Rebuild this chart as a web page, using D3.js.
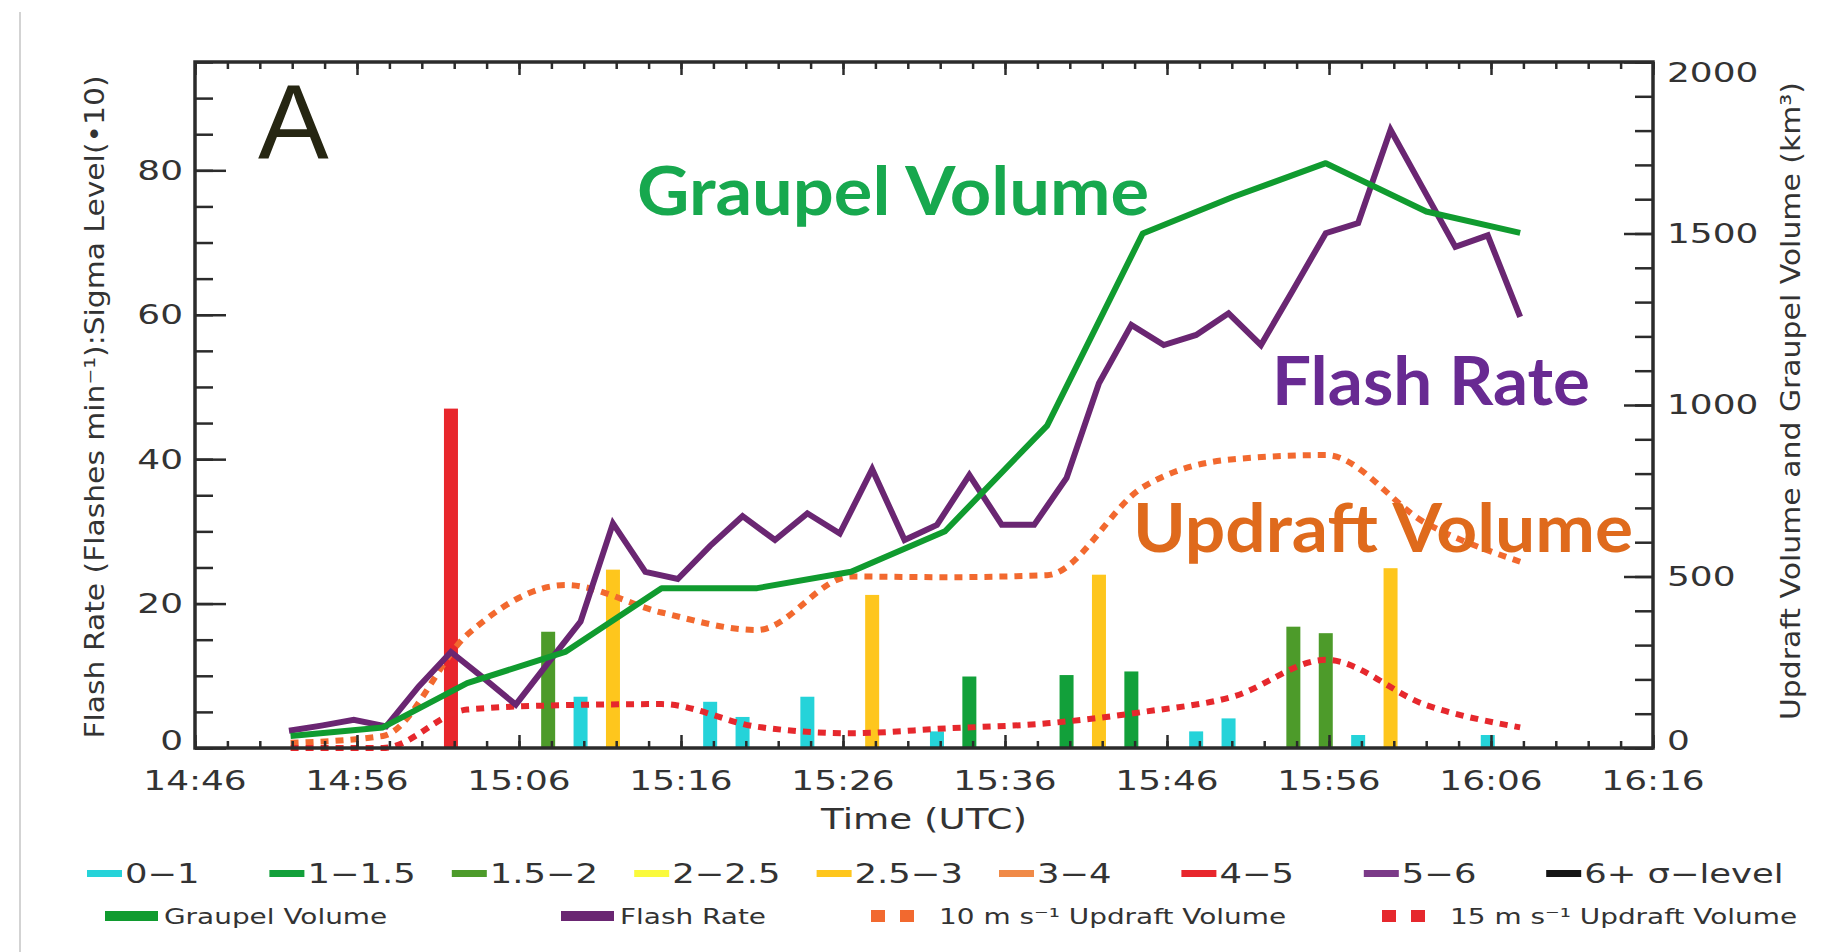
<!DOCTYPE html>
<html>
<head>
<meta charset="utf-8">
<script src="https://cdn.jsdelivr.net/npm/d3@7"></script>
<style>
  body { margin: 0; background: #fff; }
  svg { display: block; }
</style>
</head>
<body>
<div id="chart"></div>
<script>
// Flash rate, sampled every 2 min (flashes per minute)
const flashTimes = ["14:51:48", "14:53:48", "14:55:48", "14:57:48", "14:59:48", "15:01:48", "15:03:48",
	"15:05:48", "15:07:48", "15:09:48", "15:11:48", "15:13:48", "15:15:48", "15:17:48", "15:19:48",
	"15:21:48", "15:23:48", "15:25:48", "15:27:48", "15:29:48", "15:31:48", "15:33:48", "15:35:48",
	"15:37:48", "15:39:48", "15:41:48", "15:43:48", "15:45:48", "15:47:48", "15:49:48", "15:51:48",
	"15:53:48", "15:55:48", "15:57:48", "15:59:48", "16:01:48", "16:03:48", "16:05:48", "16:07:48"];
const flashRate = [2.4, 3.1, 3.9, 3.0, 8.5, 13.3, 9.7, 6.0, 11.8, 17.5, 31.1, 24.4, 23.4, 28.0, 32.1,
	28.8, 32.5, 29.7, 38.6, 28.8, 30.9, 37.8, 30.9, 30.9, 37.4, 50.5, 58.6, 55.8, 57.2, 60.2, 55.8,
	63.5, 71.3, 72.7, 85.6, 77.5, 69.4, 71.0, 59.7];

// Radar volume scans (km^3)
const radarTimes = ["14:51:54", "14:57:36", "15:02:48", "15:08:54", "15:14:48", "15:20:42", "15:26:30",
	"15:32:18", "15:38:36", "15:44:30", "15:50:06", "15:55:48", "16:02:00", "16:07:48"];
const graupelVolume = [35, 60, 189, 281, 466, 466, 514, 632, 940, 1500, 1607, 1705, 1564, 1502];
const updraft10 = [15, 35, 330, 475, 395, 344, 500, 498, 504, 760, 842, 854, 655, 543];
const updraft15 = [0, 0, 112, 125, 128, 62, 43, 57, 72, 105, 150, 257, 125, 60];

// Sigma level jumps (sigma * 10)
const barTimes = ["15:01:48", "15:07:48", "15:09:48", "15:11:48", "15:17:48", "15:19:48", "15:23:48",
	"15:27:48", "15:31:48", "15:33:48", "15:39:48", "15:41:48", "15:43:48", "15:47:48", "15:49:48",
	"15:53:48", "15:55:48", "15:57:48", "15:59:48", "16:05:48"];
const barValues = [47.0, 16.1, 7.1, 24.7, 6.4, 4.3, 7.1, 21.2, 2.3, 9.9, 10.1, 24.0, 10.6, 2.3, 4.1,
	16.8, 15.9, 1.8, 24.9, 1.8];
const barLevels = ["4-5", "1.5-2", "0-1", "2.5-3", "0-1", "0-1", "0-1", "2.5-3", "0-1", "1-1.5", "1-1.5",
	"2.5-3", "1-1.5", "0-1", "0-1", "1.5-2", "1.5-2", "0-1", "2.5-3", "0-1"];

// Sigma legend
const sigmaLevels = ["0-1", "1-1.5", "1.5-2", "2-2.5", "2.5-3", "3-4", "4-5", "5-6", "6+"];
const sigmaLabels = ["0\u22121", "1\u22121.5", "1.5\u22122", "2\u22122.5", "2.5\u22123", "3\u22124",
	"4\u22125", "5\u22126", "6+ \u03c3\u2212level"];
const sigmaColours = ["#25d3d9", "#12a03a", "#4d9b2a", "#fafa3c", "#fec61d", "#f08a48", "#e8262c",
	"#7b3a88", "#151515"];

// Axis ticks
const timeTicks = ["14:46", "14:56", "15:06", "15:16", "15:26", "15:36", "15:46", "15:56", "16:06", "16:16"];
const leftTicks = [0, 20, 40, 60, 80];
const rightTicks = [0, 500, 1000, 1500, 2000];

const colours = {
	graupel: "#109b2f",
	flash: "#6a2672",
	up10: "#f2692f",
	up15: "#e6282d",
	axis: "#2b2b2b",
	text: "#333333"
};

const W = 1834, H = 952;
const plot = { left: 195, right: 1653, top: 62, bottom: 748 };

const parseTime = d3.timeParse("%H:%M:%S");
const parseTick = d3.timeParse("%H:%M");

const x = d3.scaleTime()
	.domain([parseTick(timeTicks[0]), parseTick(timeTicks[timeTicks.length - 1])])
	.range([plot.left, plot.right]);
const yLeft = d3.scaleLinear().domain([0, 95]).range([plot.bottom, plot.top]);
const yRight = d3.scaleLinear().domain([0, 2000]).range([plot.bottom, plot.top]);

const svg = d3.select("#chart").append("svg")
	.attr("width", W)
	.attr("height", H)
	.style("font-family", "'DejaVu Sans', sans-serif");

svg.append("rect").attr("width", W).attr("height", H).attr("fill", "#fff");

// thin page border on the left
svg.append("line")
	.attr("x1", 20).attr("x2", 20).attr("y1", 12).attr("y2", H)
	.attr("stroke", "#c4c4c4").attr("stroke-width", 1.5);

// IDL style lettering is wide, so stretch it sideways
function idlText(g, px, py, str, size, anchor, sx) {
	return g.append("text")
		.attr("transform", `translate(${px},${py}) scale(${sx},1)`)
		.attr("text-anchor", anchor)
		.attr("dy", "0.36em")
		.attr("font-size", size)
		.attr("fill", colours.text)
		.text(str);
}

// ---- bars ----
const bars = barTimes.map((t, i) => ({ time: parseTime(t), value: barValues[i], level: barLevels[i] }));
const levelColour = d3.scaleOrdinal().domain(sigmaLevels).range(sigmaColours);

svg.append("g").attr("class", "bars")
	.selectAll("rect")
	.data(bars)
	.enter()
	.append("rect")
	.attr("x", d => x(d.time) - 7)
	.attr("width", 14)
	.attr("y", d => yLeft(d.value))
	.attr("height", d => yLeft(0) - yLeft(d.value))
	.attr("fill", d => levelColour(d.level));

// ---- lines ----
const radar = radarTimes.map((t, i) => ({
	time: parseTime(t), graupel: graupelVolume[i], up10: updraft10[i], up15: updraft15[i]
}));
const flashes = flashTimes.map((t, i) => ({ time: parseTime(t), rate: flashRate[i] }));

const lines = svg.append("g").attr("class", "lines").attr("fill", "none");

lines.append("path")
	.attr("d", d3.line().curve(d3.curveMonotoneX).x(d => x(d.time)).y(d => yRight(d.up10))(radar))
	.attr("stroke", colours.up10).attr("stroke-width", 6).attr("stroke-dasharray", "8,7");

lines.append("path")
	.attr("d", d3.line().curve(d3.curveMonotoneX).x(d => x(d.time)).y(d => yRight(d.up15))(radar))
	.attr("stroke", colours.up15).attr("stroke-width", 6).attr("stroke-dasharray", "8,7");

lines.append("path")
	.attr("d", d3.line().x(d => x(d.time)).y(d => yLeft(d.rate))(flashes))
	.attr("stroke", colours.flash).attr("stroke-width", 6).attr("stroke-linejoin", "miter");

lines.append("path")
	.attr("d", d3.line().x(d => x(d.time)).y(d => yRight(d.graupel))(radar))
	.attr("stroke", colours.graupel).attr("stroke-width", 6).attr("stroke-linejoin", "round");

// ---- axes: ticks point inward like IDL ----
function styleAxis(g) {
	g.select(".domain").remove();
	g.selectAll(".tick line").attr("stroke", colours.axis).attr("stroke-width", 2.5);
	g.selectAll(".tick text").remove();
}

const minuteTicks = d3.timeMinute.every(2).range(x.domain()[0], new Date(+x.domain()[1] + 1));
const majorTimes = timeTicks.map(parseTick);

[[d3.axisBottom, plot.bottom], [d3.axisTop, plot.top]].forEach(([axisFn, yPos]) => {
	svg.append("g").attr("transform", `translate(0,${yPos})`)
		.call(axisFn(x).tickValues(minuteTicks).tickSize(-7).tickFormat(""))
		.call(styleAxis);
	svg.append("g").attr("transform", `translate(0,${yPos})`)
		.call(axisFn(x).tickValues(majorTimes).tickSize(-13).tickFormat(""))
		.call(styleAxis);
});

svg.append("g").attr("transform", `translate(${plot.left},0)`)
	.call(d3.axisLeft(yLeft).tickValues(d3.range(0, 96, 5)).tickSize(-18).tickFormat(""))
	.call(styleAxis);
svg.append("g").attr("transform", `translate(${plot.left},0)`)
	.call(d3.axisLeft(yLeft).tickValues(leftTicks).tickSize(-31).tickFormat(""))
	.call(styleAxis);

svg.append("g").attr("transform", `translate(${plot.right},0)`)
	.call(d3.axisRight(yRight).tickValues(d3.range(0, 2001, 100)).tickSize(-18).tickFormat(""))
	.call(styleAxis);
svg.append("g").attr("transform", `translate(${plot.right},0)`)
	.call(d3.axisRight(yRight).tickValues(rightTicks).tickSize(-29).tickFormat(""))
	.call(styleAxis);

// frame
svg.append("rect")
	.attr("x", plot.left).attr("y", plot.top)
	.attr("width", plot.right - plot.left).attr("height", plot.bottom - plot.top)
	.attr("fill", "none").attr("stroke", colours.axis).attr("stroke-width", 3.5);

// tick labels
const labels = svg.append("g").attr("class", "tick-labels");
const clampY = y => Math.max(plot.top + 11, Math.min(plot.bottom - 7, y));
leftTicks.forEach(v => idlText(labels, plot.left - 12, clampY(yLeft(v)), v, 26, "end", 1.38));
rightTicks.forEach(v => idlText(labels, plot.right + 14, clampY(yRight(v)), v, 26, "start", 1.38));
timeTicks.forEach(t => idlText(labels, x(parseTick(t)), 781, t, 26, "middle", 1.38));

// axis titles
svg.append("text")
	.attr("transform", `translate(94,407) rotate(-90)`)
	.attr("text-anchor", "middle").attr("dy", "0.36em")
	.attr("font-size", 27).attr("fill", colours.text)
	.attr("textLength", 663).attr("lengthAdjust", "spacingAndGlyphs")
	.text("Flash Rate (Flashes min\u207b\u00b9):Sigma Level(\u202210)");

svg.append("text")
	.attr("transform", `translate(1790,401) rotate(-90)`)
	.attr("text-anchor", "middle").attr("dy", "0.36em")
	.attr("font-size", 27).attr("fill", colours.text)
	.attr("textLength", 638).attr("lengthAdjust", "spacingAndGlyphs")
	.text("Updraft Volume and Graupel Volume (km\u00b3)");

idlText(svg, (plot.left + plot.right) / 2, 819, "Time (UTC)", 28, "middle", 1.33);

// panel letter
svg.append("text")
	.attr("x", 258).attr("y", 158)
	.attr("font-family", "'Liberation Sans', sans-serif")
	.attr("font-size", 106).attr("fill", "#262612")
	.text("A");

// annotations
const notes = [
	{ text: "Graupel Volume", x: 637, y: 215, len: 512, colour: "#17a84e" },
	{ text: "Flash Rate", x: 1272, y: 405, len: 318, colour: "#682a92" },
	{ text: "Updraft Volume", x: 1133, y: 552, len: 500, colour: "#df6a1c" }
];
svg.append("g").selectAll("text")
	.data(notes)
	.enter()
	.append("text")
	.attr("x", d => d.x).attr("y", d => d.y)
	.attr("font-family", "Lato, 'Open Sans', sans-serif")
	.attr("font-weight", 700).attr("font-size", 66)
	.attr("textLength", d => d.len).attr("lengthAdjust", "spacingAndGlyphs")
	.attr("fill", d => d.colour)
	.text(d => d.text);

// ---- legend ----
const legend = svg.append("g").attr("class", "legend");
sigmaLevels.forEach((lvl, i) => {
	const lx = 87 + i * 182.4;
	legend.append("rect")
		.attr("x", lx).attr("y", 870).attr("width", 35).attr("height", 7)
		.attr("fill", sigmaColours[i]);
	idlText(legend, lx + 38, 874, sigmaLabels[i], 26, "start", 1.36);
});

const row2 = 916;
[[colours.graupel, 105, "Graupel Volume"], [colours.flash, 561, "Flash Rate"]].forEach(([c, lx, label]) => {
	legend.append("rect")
		.attr("x", lx).attr("y", row2 - 5).attr("width", 53).attr("height", 10)
		.attr("fill", c);
	idlText(legend, lx + 59, row2, label, 21, "start", 1.33);
});
[[colours.up10, 871, "10 m s\u207b\u00b9 Updraft Volume"], [colours.up15, 1382, "15 m s\u207b\u00b9 Updraft Volume"]]
	.forEach(([c, lx, label]) => {
		[0, 1].forEach(k => legend.append("rect")
			.attr("x", lx + k * 29).attr("y", row2 - 6).attr("width", 14).attr("height", 12)
			.attr("fill", c));
		idlText(legend, lx + 68, row2, label, 21, "start", 1.33);
	});
</script>
</body>
</html>
